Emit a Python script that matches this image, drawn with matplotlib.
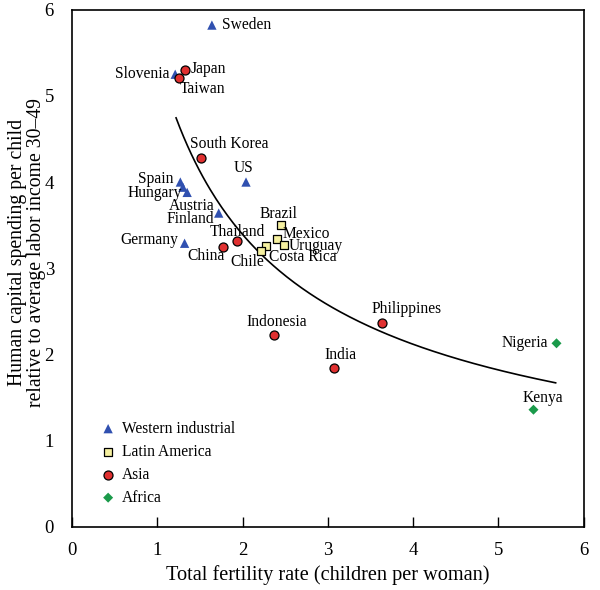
import numpy as np
import matplotlib
matplotlib.use("Agg")
import matplotlib.pyplot as plt

plt.rcParams['font.family'] = ['Liberation Serif', 'DejaVu Serif']

# ---- data ----
west_names = ["Sweden", "Slovenia", "US", "Spain", "Austria", "Hungary", "Finland", "Germany"]
west_x = [1.64, 1.21, 2.04, 1.27, 1.30, 1.35, 1.72, 1.32]
west_y = [5.82, 5.25, 4.00, 4.00, 3.94, 3.88, 3.64, 3.29]

latam_names = ["Brazil", "Mexico", "Uruguay", "Costa Rica", "Chile"]
latam_x = [2.45, 2.40, 2.49, 2.28, 2.21]
latam_y = [3.50, 3.34, 3.27, 3.26, 3.20]

asia_names = ["Japan", "Taiwan", "South Korea", "Thailand", "China", "Indonesia", "India", "Philippines"]
asia_x = [1.33, 1.25, 1.51, 1.93, 1.77, 2.37, 3.07, 3.64]
asia_y = [5.30, 5.21, 4.28, 3.32, 3.25, 2.23, 1.84, 2.37]

africa_names = ["Nigeria", "Kenya"]
africa_x = [5.68, 5.41]
africa_y = [2.13, 1.36]

# fitted power curve y = a * x^b over the shown range
fit_a, fit_b = 5.43, -0.679
fit_range = (1.22, 5.67)

x_ticks = [0, 1, 2, 3, 4, 5, 6]
y_ticks = [0, 1, 2, 3, 4, 5, 6]

# label offsets in pixels (dx, dy, ha)
offsets = {
    "Sweden": (10, 0, "left"), "Slovenia": (-6, 0, "right"), "Japan": (5, 1, "left"),
    "Taiwan": (1, -11, "left"), "South Korea": (28, 14, "center"), "US": (-2, 14, "center"),
    "Spain": (-7, 3, "right"), "Hungary": (-5, -1, "right"), "Austria": (32, -19, "right"),
    "Finland": (-5, -6, "right"), "Germany": (-6, 3, "right"), "China": (-17, -9, "center"),
    "Thailand": (1, 9, "center"), "Brazil": (-3, 11, "center"), "Mexico": (6, 5, "left"),
    "Uruguay": (4, -1, "left"), "Costa Rica": (3, -11, "left"), "Chile": (-13, -11, "center"),
    "Indonesia": (3, 13, "center"), "India": (7, 13, "center"), "Philippines": (24, 14, "center"),
    "Nigeria": (-8, 0, "right"), "Kenya": (9, 12, "center"),
}

fig = plt.figure(figsize=(6.0, 5.9), dpi=100)
ax = fig.add_axes([0.12, 0.1068, 0.853, 0.877])

xs = np.linspace(fit_range[0], fit_range[1], 200)
ax.plot(xs, fit_a * xs ** fit_b, color="black", lw=1.2, zorder=1)

ax.scatter(west_x, west_y, marker="^", s=45, color="#3050b0", edgecolors="none", zorder=3,
           label="Western industrial")
ax.scatter(latam_x, latam_y, marker="s", s=38, color="#f5f0a0", edgecolors="black", linewidths=0.9,
           zorder=3, label="Latin America")
ax.scatter(asia_x, asia_y, marker="o", s=42, color="#e03030", edgecolors="black", linewidths=0.9,
           zorder=3, label="Asia")
ax.scatter(africa_x, africa_y, marker="D", s=26, color="#1a9a4a", edgecolors="none", zorder=3,
           label="Africa")

for names, xv, yv in [(west_names, west_x, west_y), (latam_names, latam_x, latam_y),
                      (asia_names, asia_x, asia_y), (africa_names, africa_x, africa_y)]:
    for n, x, y in zip(names, xv, yv):
        dx, dy, ha = offsets[n]
        ax.annotate(n, (x, y), xytext=(dx, dy), textcoords="offset pixels",
                    ha=ha, va="center", fontsize=11.2, zorder=4)

ax.set_xlim(0, 6)
ax.set_ylim(0, 6)
ax.set_xticks(x_ticks)
ax.set_yticks(y_ticks)
ax.tick_params(axis="x", direction="in", length=7, width=1, labelsize=13.5, pad=11)
ax.tick_params(axis="y", direction="in", length=0, labelsize=13.5, pad=13)
for s in ax.spines.values():
    s.set_linewidth(1.2)

ax.set_xlabel("Total fertility rate (children per woman)", fontsize=14.6, labelpad=4)
ax.set_ylabel("Human capital spending per child\nrelative to average labor income 30\u201349",
              fontsize=14.2, linespacing=1.0)
ax.yaxis.label.set_va("center")
ax.yaxis.set_label_coords(-0.088, 0.531)

leg = ax.legend(loc="lower left", bbox_to_anchor=(0.025, 0.014), frameon=False, fontsize=11.2,
                handletextpad=0.3, labelspacing=0.45, handlelength=1.2, scatterpoints=1)

fig.savefig("out.png", dpi=100)
